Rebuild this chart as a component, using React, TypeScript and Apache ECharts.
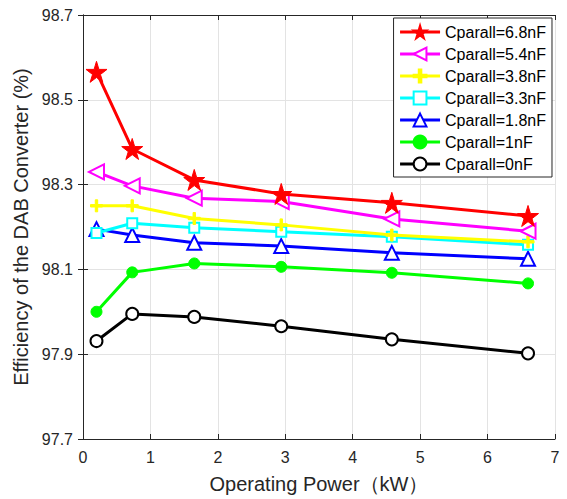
import React, { useEffect, useRef } from "react";
import * as echarts from "echarts";

const power = [0.2, 0.73, 1.65, 2.94, 4.58, 6.6];
const c68 = [98.566, 98.384, 98.311, 98.278, 98.257, 98.226];
const c54 = [98.33, 98.297, 98.268, 98.26, 98.219, 98.19];
const c38 = [98.25, 98.25, 98.22, 98.205, 98.181, 98.165];
const c33 = [98.186, 98.209, 98.198, 98.189, 98.177, 98.158];
const c18 = [98.195, 98.181, 98.163, 98.155, 98.139, 98.125];
const c10 = [98.0, 98.093, 98.114, 98.106, 98.092, 98.067];
const c00 = [97.931, 97.995, 97.988, 97.966, 97.935, 97.902];

const yTicks = [97.7, 97.9, 98.1, 98.3, 98.5, 98.7];

const names = [
  "Cparall=6.8nF",
  "Cparall=5.4nF",
  "Cparall=3.8nF",
  "Cparall=3.3nF",
  "Cparall=1.8nF",
  "Cparall=1nF",
  "Cparall=0nF",
];

const STAR = "path://M50,0 L61,35 L98,35 L68,57 L79,91 L50,70 L21,91 L32,57 L2,35 L39,35 Z";
const PLUS = "path://M40,0 H60 V40 H100 V60 H60 V100 H40 V60 H0 V40 H40 Z";

const FONT = "'Liberation Sans', Arial, sans-serif";

export default function App() {
  const ref = useRef<HTMLDivElement>(null);
  useEffect(() => {
    if (!ref.current) return;
    const chart = echarts.init(ref.current, null, { renderer: "svg" });
    const mk = (vals: number[]) => power.map((p, i) => [p, vals[i]]);
    const defs: any[] = [
      { data: c68, color: "#ff0000", symbol: STAR, size: 21, rotate: 0, bw: 1 },
      { data: c54, color: "#ff00ff", symbol: "emptyTriangle", size: 15, rotate: 90, bw: 3 },
      { data: c38, color: "#ffff00", symbol: PLUS, size: 12, rotate: 0, bw: 1 },
      { data: c33, color: "#00ffff", symbol: "emptyRect", size: 10, rotate: 0, bw: 3 },
      { data: c18, color: "#0000ff", symbol: "emptyTriangle", size: 14, rotate: 0, bw: 3.5 },
      { data: c10, color: "#00ff00", symbol: "circle", size: 11, rotate: 0, bw: 1 },
      { data: c00, color: "#000000", symbol: "emptyCircle", size: 12, rotate: 0, bw: 3 },
    ];
    const series = defs.map((d, i) => ({
      name: names[i],
      type: "line",
      data: mk(d.data),
      symbol: d.symbol,
      symbolSize: d.size,
      symbolRotate: d.rotate,
      showAllSymbol: true,
      lineStyle: { color: d.color, width: 3 },
      itemStyle: { color: d.color, borderColor: d.color, borderWidth: d.bw },
      z: 10 - i,
    }));
    const axisLine = { show: true, lineStyle: { color: "#262626", width: 1 } };
    const tickStyle = { color: "#262626" };
    chart.setOption({
      animation: false,
      backgroundColor: "#ffffff",
      textStyle: { fontFamily: FONT },
      grid: { left: 83, right: 12, top: 15, bottom: 60, containLabel: false },
      legend: {
        orient: "vertical",
        right: 15,
        top: 18,
        backgroundColor: "#ffffff",
        borderColor: "#262626",
        borderWidth: 1,
        borderRadius: 0,
        padding: [6, 6, 5, 5],
        itemWidth: 40,
        itemHeight: 16,
        itemGap: 6,
        lineStyle: { width: 3 },
        textStyle: { fontSize: 16, color: "#000", fontFamily: FONT },
        data: names,
      },
      xAxis: [
        {
          type: "value",
          min: 0,
          max: 7,
          interval: 1,
          name: "Operating Power（kW）",
          nameLocation: "middle",
          nameGap: 35,
          nameTextStyle: { fontSize: 20, color: "#262626", fontFamily: FONT },
          axisLine,
          axisTick: { show: true, inside: true, length: 5, lineStyle: tickStyle },
          axisLabel: { fontSize: 16, color: "#262626", margin: 10, fontFamily: FONT },
          splitLine: { show: true, lineStyle: { color: "#e3e3e3", width: 1 } },
        },
        {
          type: "value",
          position: "top",
          min: 0,
          max: 7,
          interval: 1,
          axisLine,
          axisTick: { show: true, inside: true, length: 5, lineStyle: tickStyle },
          axisLabel: { show: false },
          splitLine: { show: false },
        },
      ],
      yAxis: [
        {
          type: "value",
          min: 97.7,
          max: 98.7,
          interval: 0.1,
          name: "Efficiency of the DAB Converter (%)",
          nameLocation: "middle",
          nameGap: 48,
          nameTextStyle: { fontSize: 20, color: "#262626", fontFamily: FONT },
          axisLine,
          axisTick: { show: true, inside: true, length: 5, customValues: yTicks, lineStyle: tickStyle },
          axisLabel: {
            fontSize: 16,
            color: "#262626",
            margin: 10,
            customValues: yTicks,
            fontFamily: FONT,
            formatter: (v: number) => v.toFixed(1),
          },
          splitLine: { show: true, lineStyle: { color: "#e3e3e3", width: 1 } },
        },
        {
          type: "value",
          position: "right",
          min: 97.7,
          max: 98.7,
          interval: 0.1,
          axisLine,
          axisTick: { show: true, inside: true, length: 5, customValues: yTicks, lineStyle: tickStyle },
          axisLabel: { show: false },
          splitLine: { show: false },
        },
      ],
      series,
    });
    return () => chart.dispose();
  }, []);
  return <div ref={ref} style={{ width: 567, height: 499, position: "absolute", left: 0, top: 0 }} />;
}
